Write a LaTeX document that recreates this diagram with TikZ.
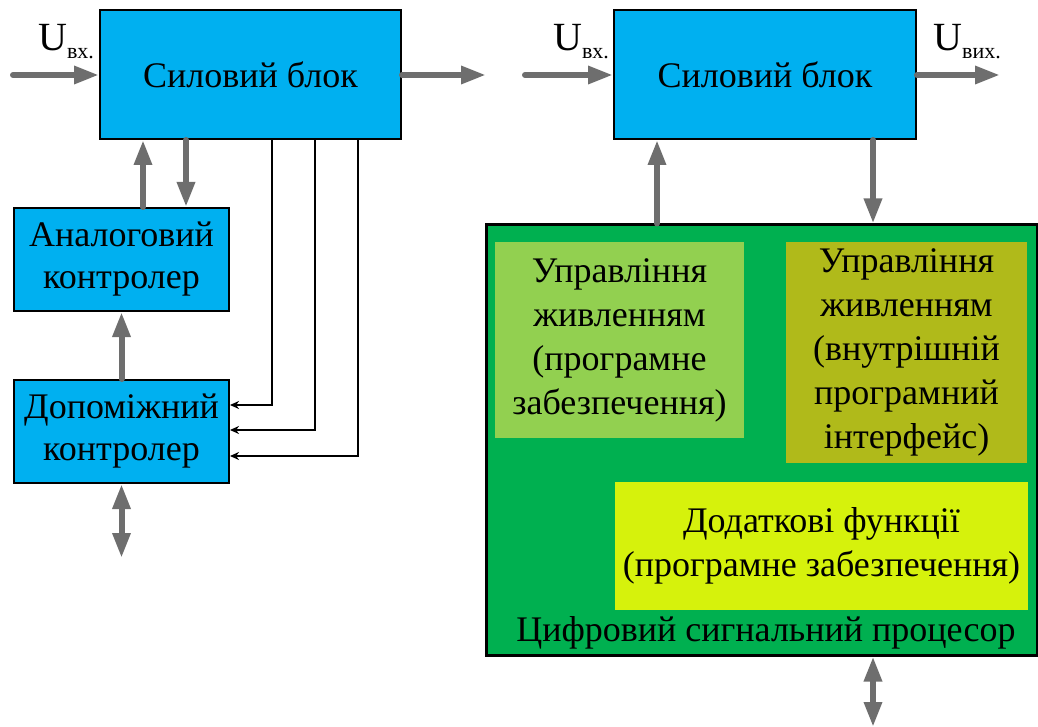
\documentclass[tikz,border=0pt]{standalone}
\usepackage{fontspec}
\setmainfont{Liberation Serif}
\usetikzlibrary{arrows.meta}
\definecolor{cblue}{RGB}{0,176,240}
\definecolor{cgreen}{RGB}{0,176,80}
\definecolor{clight}{RGB}{146,208,80}
\definecolor{colive}{RGB}{176,186,26}
\definecolor{cyellow}{RGB}{214,242,12}
\definecolor{carrow}{RGB}{110,110,110}
\tikzset{
  blk/.style={draw=black, line width=2pt, fill=cblue, inner sep=0pt, align=center,
    font=\fontsize{36}{42}\selectfont},
  inbox/.style={inner sep=0pt, align=center, font=\fontsize{36}{44}\selectfont},
  garrow/.style={draw=carrow, line width=6pt, line cap=round, -{Triangle[length=25pt,width=17pt]}},
  gdarrow/.style={draw=carrow, line width=6pt, {Triangle[length=25pt,width=17pt]}-{Triangle[length=25pt,width=17pt]}},
  tarrow/.style={draw=black, line width=2pt, -{Stealth[length=9pt,width=8pt]}},
  ulabel/.style={inner sep=0pt}
}
\newcommand{\Ulab}[1]{{\fontsize{40}{40}\selectfont U}\raisebox{-8pt}{\fontsize{22}{22}\selectfont #1}}
\begin{document}
\begin{tikzpicture}[x=1pt,y=-1pt]
\useasboundingbox (0,0) rectangle (1038,727);
% left part
\node[blk, minimum width=301pt, minimum height=129pt] (s1) at (250.5,74.5) {Силовий блок};
\node[blk, minimum width=215pt, minimum height=103pt] (a1) at (121.5,259.5) {Аналоговий\\контролер};
\node[blk, minimum width=215pt, minimum height=103pt] (d1) at (121.5,431.5) {Допоміжний\\контролер};
\node[ulabel] (u1) at (66,42) {\Ulab{вх.}};
\coordinate (in1) at (13,75);
\coordinate (out1) at (486,75);
\coordinate (c143) at (143,0);
\coordinate (c186) at (186,0);
\coordinate (c272) at (272,405);
\coordinate (c315) at (315,430);
\coordinate (c358) at (358,456);
\coordinate (bot1) at (121.5,558);
\draw[garrow] (in1) -- (s1.west |- in1);
\draw[garrow] (s1.east |- out1) -- (out1);
\draw[garrow] (a1.north -| c143) -- (s1.south -| c143);
\draw[garrow] (s1.south -| c186) -- (a1.north -| c186);
\draw[garrow] (d1.north) -- (a1.south);
\draw[gdarrow] (d1.south) -- (bot1);
\draw[tarrow] (s1.south -| c272) |- (d1.east |- c272);
\draw[tarrow] (s1.south -| c315) |- (d1.east |- c315);
\draw[tarrow] (s1.south -| c358) |- (d1.east |- c358);
% right part
\node[blk, minimum width=302pt, minimum height=129pt] (s2) at (765,74.5) {Силовий блок};
\node[draw=black, line width=3pt, fill=cgreen, minimum width=551pt, minimum height=430pt, inner sep=0pt] (dsp) at (761.5,440) {};
\node[inbox, fill=clight, minimum width=249pt, minimum height=196pt] (lg) at (619.5,340) {Управління\\живленням\\(програмне\\забезпечення)};
\node[inbox, fill=colive, minimum width=241pt, minimum height=221pt] (ol) at (906.5,352.5) {Управління\\живленням\\(внутрішній\\програмний\\інтерфейс)};
\node[inbox, fill=cyellow, minimum width=413pt, minimum height=128pt] (ye) at (821.5,546) {Додаткові функції\\(програмне забезпечення)};
\node[inbox] (dspl) at (766,633) {Цифровий сигнальний процесор};
\node[ulabel] (u2) at (581,42) {\Ulab{вх.}};
\node[ulabel] (u3) at (967,42) {\Ulab{вих.}};
\coordinate (in2) at (525,75);
\coordinate (out2) at (1000,75);
\coordinate (c657) at (657,0);
\coordinate (c873) at (873,0);
\coordinate (bot2) at (873,727);
\draw[garrow] (in2) -- (s2.west |- in2);
\draw[garrow] (s2.east |- out2) -- (out2);
\draw[garrow] (dsp.north -| c657) -- (s2.south -| c657);
\draw[garrow] (s2.south -| c873) -- (dsp.north -| c873);
\draw[gdarrow] (dsp.south -| c873) -- (bot2);
\end{tikzpicture}
\end{document}
